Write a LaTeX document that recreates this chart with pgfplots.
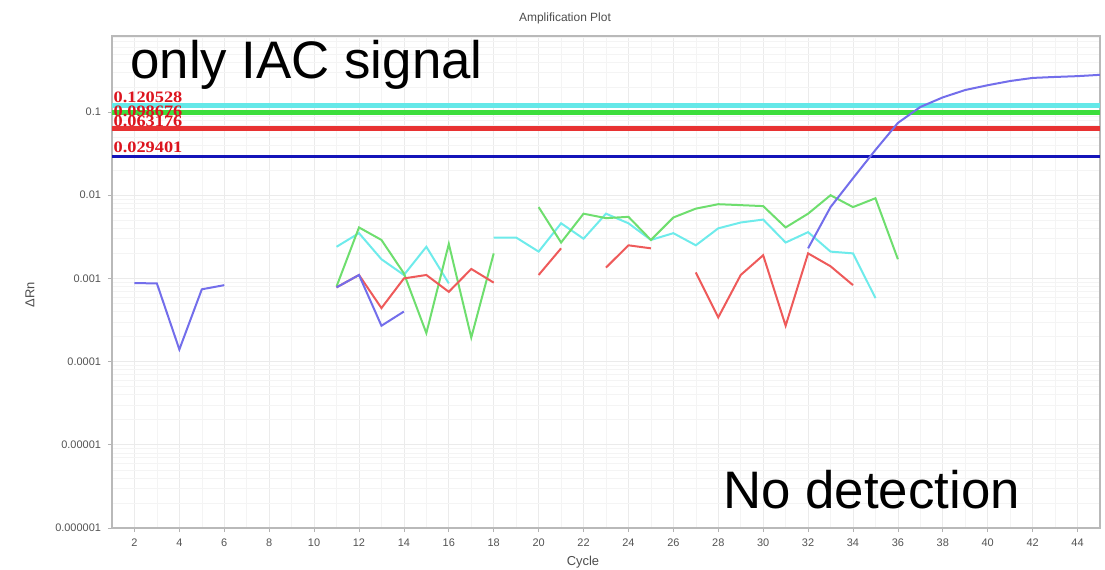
\documentclass[border=0pt]{standalone}
\usepackage{fontspec}
\setmainfont{Liberation Sans}
\newfontfamily\serifb{Liberation Serif}
\usepackage{graphicx}
\usepackage{pgfplots}
\pgfplotsset{compat=1.18}
\definecolor{dblue}{RGB}{115,110,235}
\definecolor{dred}{RGB}{238,90,90}
\definecolor{dgreen}{RGB}{110,222,110}
\definecolor{dcyan}{RGB}{110,235,235}
\definecolor{tcyan}{RGB}{100,232,232}
\definecolor{tgreen}{RGB}{60,222,60}
\definecolor{tred}{RGB}{232,50,50}
\definecolor{tblue}{RGB}{20,20,185}
\definecolor{lbl}{RGB}{220,20,30}
\begin{document}
\begin{tikzpicture}
\useasboundingbox (0,0) rectangle (552.5bp,285bp);
\begin{axis}[
  at={(56bp,21bp)}, anchor=south west, scale only axis,
  width=494bp, height=246bp,
  xmin=1, xmax=45, ymode=log, ymin=1e-6, ymax=0.82,
  xtick={2,4,...,44}, minor x tick num=1,
  ytick={1e-6,1e-5,1e-4,1e-3,1e-2,1e-1},
  yticklabels={0.000001,0.00001,0.0001,0.001,0.01,0.1},
  minor ytick={2e-6,3e-6,4e-6,5e-6,6e-6,7e-6,8e-6,9e-6,
    2e-5,3e-5,4e-5,5e-5,6e-5,7e-5,8e-5,9e-5,
    2e-4,3e-4,4e-4,5e-4,6e-4,7e-4,8e-4,9e-4,
    2e-3,3e-3,4e-3,5e-3,6e-3,7e-3,8e-3,9e-3,
    2e-2,3e-2,4e-2,5e-2,6e-2,7e-2,8e-2,9e-2,
    0.2,0.3,0.4,0.5,0.6,0.7,0.8},
  grid=both,
  major grid style={gray!16, line width=0.4bp},
  minor grid style={gray!9, line width=0.3bp},
  axis line style={gray!55, line width=0.7bp},
  tick style={gray!60, line width=0.4bp},
  major tick length=2bp, minor tick length=0pt,
  tick align=outside, xtick pos=bottom, ytick pos=left,
  /pgf/number format/assume math mode=true,
  ticklabel style={font=\fontsize{5.5}{6}\selectfont, text=gray!65!black},
]
% thresholds
\addplot[tcyan, line width=2.6bp] coordinates {(1,0.120528) (45,0.120528)};
\addplot[tgreen, line width=2.6bp] coordinates {(1,0.0987) (45,0.0987)};
\addplot[tred, line width=2.4bp] coordinates {(1,0.063176) (45,0.063176)};
\addplot[tblue, line width=1.5bp] coordinates {(1,0.029401) (45,0.029401)};
% cyan
\addplot[dcyan, line width=1bp] coordinates {(11,0.0024)(12,0.0035)(13,0.0017)(14,0.0011)(15,0.0024)(16,0.00087)};
\addplot[dcyan, line width=1bp] coordinates {(18,0.0031)(19,0.0031)(20,0.0021)(21,0.0046)(22,0.003)(23,0.006)(24,0.0046)(25,0.0029)(26,0.0035)(27,0.0025)(28,0.004)(29,0.0047)(30,0.0051)(31,0.0027)(32,0.0036)(33,0.0021)(34,0.002)(35,0.00058)};
% green
\addplot[dgreen, line width=1bp] coordinates {(11,0.0008)(12,0.0041)(13,0.0029)(14,0.00115)(15,0.00022)(16,0.0026)(17,0.000195)(18,0.002)};
\addplot[dgreen, line width=1bp] coordinates {(20,0.0072)(21,0.0027)(22,0.006)(23,0.0053)(24,0.0055)(25,0.0029)(26,0.0054)(27,0.0069)(28,0.0078)(29,0.0076)(30,0.0074)(31,0.0041)(32,0.006)(33,0.01)(34,0.0072)(35,0.0092)(36,0.0017)};
% red
\addplot[dred, line width=1bp] coordinates {(11,0.00078)(12,0.0011)(13,0.00044)(14,0.001)(15,0.0011)(16,0.00069)(17,0.0013)(18,0.00089)};
\addplot[dred, line width=1bp] coordinates {(20,0.0011)(21,0.0023)};
\addplot[dred, line width=1bp] coordinates {(23,0.00135)(24,0.0025)(25,0.0023)};
\addplot[dred, line width=1bp] coordinates {(27,0.00118)(28,0.00034)(29,0.0011)(30,0.0019)(31,0.00027)(32,0.002)(33,0.0014)(34,0.00083)};
% blue
\addplot[dblue, line width=1bp] coordinates {(2,0.00088)(3,0.00087)(4,0.00014)(5,0.00074)(6,0.00083)};
\addplot[dblue, line width=1bp] coordinates {(11,0.00078)(12,0.0011)(13,0.00027)(14,0.0004)};
\addplot[dblue, line width=1bp] coordinates {(32,0.0023)(33,0.0072)(34,0.016)(35,0.035)(36,0.074)(37,0.115)(38,0.15)(39,0.184)(40,0.21)(41,0.236)(42,0.257)(43,0.264)(44,0.27)(45,0.28)};
% threshold labels
\begin{scope}[every node/.style={anchor=base west, inner sep=0pt, text=lbl, font=\serifb\bfseries\fontsize{8}{9}\selectfont}]
\node[xshift=0.6bp, yshift=1.6bp] at (axis cs:1,0.120528) {\scalebox{1.15}[1]{0.120528}};
\node[xshift=0.6bp, yshift=-1.8bp] at (axis cs:1,0.0987) {\scalebox{1.15}[1]{0.098676}};
\node[xshift=0.6bp, yshift=1.2bp] at (axis cs:1,0.063176) {\scalebox{1.15}[1]{0.063176}};
\node[xshift=0.6bp, yshift=1.8bp] at (axis cs:1,0.029401) {\scalebox{1.15}[1]{0.029401}};
\end{scope}
\end{axis}
\node[font=\fontsize{6}{7}\selectfont, text=gray!60!black] at (282.5bp,276bp) {Amplification Plot};
\node[font=\fontsize{6.5}{7}\selectfont, text=gray!60!black] at (291.5bp,3.8bp) {Cycle};
\node[rotate=90, font=\fontsize{6.5}{7}\selectfont, text=gray!60!black] at (15bp,137.5bp) {ΔRn};
\node[anchor=base west, inner sep=0pt, font=\fontsize{26.5}{30}\selectfont] at (65bp,245.5bp) {only IAC signal};
\node[anchor=base west, inner sep=0pt, font=\fontsize{26.5}{30}\selectfont] at (361.5bp,31bp) {No detection};
\end{tikzpicture}
\end{document}
